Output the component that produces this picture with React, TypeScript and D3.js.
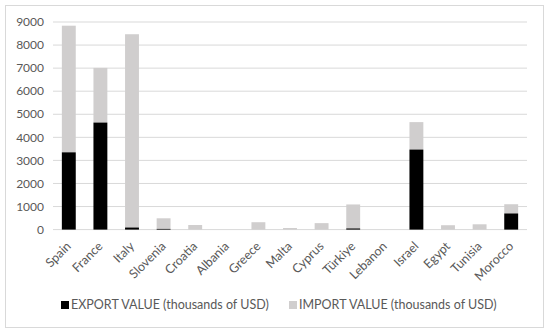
import React from "react";
import * as d3 from "d3";

const categories = ["Spain", "France", "Italy", "Slovenia", "Croatia", "Albania", "Greece", "Malta", "Cyprus", "Türkiye", "Lebanon", "Israel", "Egypt", "Tunisia", "Morocco"];
const exportValues = [3350, 4640, 90, 30, 0, 0, 0, 0, 0, 50, 0, 3470, 0, 0, 700];
const importValues = [5490, 2370, 8380, 460, 200, 0, 320, 70, 280, 1040, 0, 1190, 190, 230, 400];
const yTicks = [0, 1000, 2000, 3000, 4000, 5000, 6000, 7000, 8000, 9000];
const seriesNames = ["EXPORT VALUE (thousands of USD)", "IMPORT VALUE (thousands of USD)"];

const W = 550, H = 334;
const FONT = "Lato, 'Open Sans', sans-serif";

export default function App() {
  const x = d3.scaleBand<string>().domain(categories).range([53, 527]).paddingInner(0.56).paddingOuter(0.28);
  const y = d3.scaleLinear().domain([0, 9000]).range([229.6, 22]);
  const exportColor = "#000000";
  const importColor = "#d0cece";
  return (
    <svg width={W} height={H} style={{ position: "absolute", left: 0, top: 0 }} fontFamily={FONT}>
      <rect x={0} y={0} width={W} height={H} fill="#fff" />
      <rect x={5.5} y={5.5} width={538} height={322} fill="none" stroke="#d9d9d9" strokeWidth={1} />
      {yTicks.map((t) => (
        <g key={t}>
          <line x1={53} x2={527} y1={y(t)} y2={y(t)} stroke="#d9d9d9" strokeWidth={1} />
          <text x={44} y={y(t)} dy="0.35em" textAnchor="end" fontSize={12} fill="#595959">{t}</text>
        </g>
      ))}
      {categories.map((c, i) => {
        const bx = x(c)!;
        const bw = x.bandwidth();
        const e = exportValues[i];
        const im = importValues[i];
        return (
          <g key={c}>
            {im > 0 && <rect x={bx} width={bw} y={y(e + im)} height={y(e) - y(e + im)} fill={importColor} />}
            {e > 0 && <rect x={bx} width={bw} y={y(e)} height={y(0) - y(e)} fill={exportColor} />}
            <text transform={`translate(${bx + bw / 2 + 3},${247}) rotate(-45)`} textAnchor="end" fontSize={12.5} fill="#595959">{c}</text>
          </g>
        );
      })}
      <g transform="translate(61,305)">
        <rect x={0} y={-4} width={8} height={8} fill={exportColor} />
        <text x={10} y={0} dy="0.35em" fontSize={12.5} fill="#595959">{seriesNames[0]}</text>
      </g>
      <g transform="translate(289,305)">
        <rect x={0} y={-4} width={8} height={8} fill={importColor} />
        <text x={10} y={0} dy="0.35em" fontSize={12.5} fill="#595959">{seriesNames[1]}</text>
      </g>
    </svg>
  );
}
